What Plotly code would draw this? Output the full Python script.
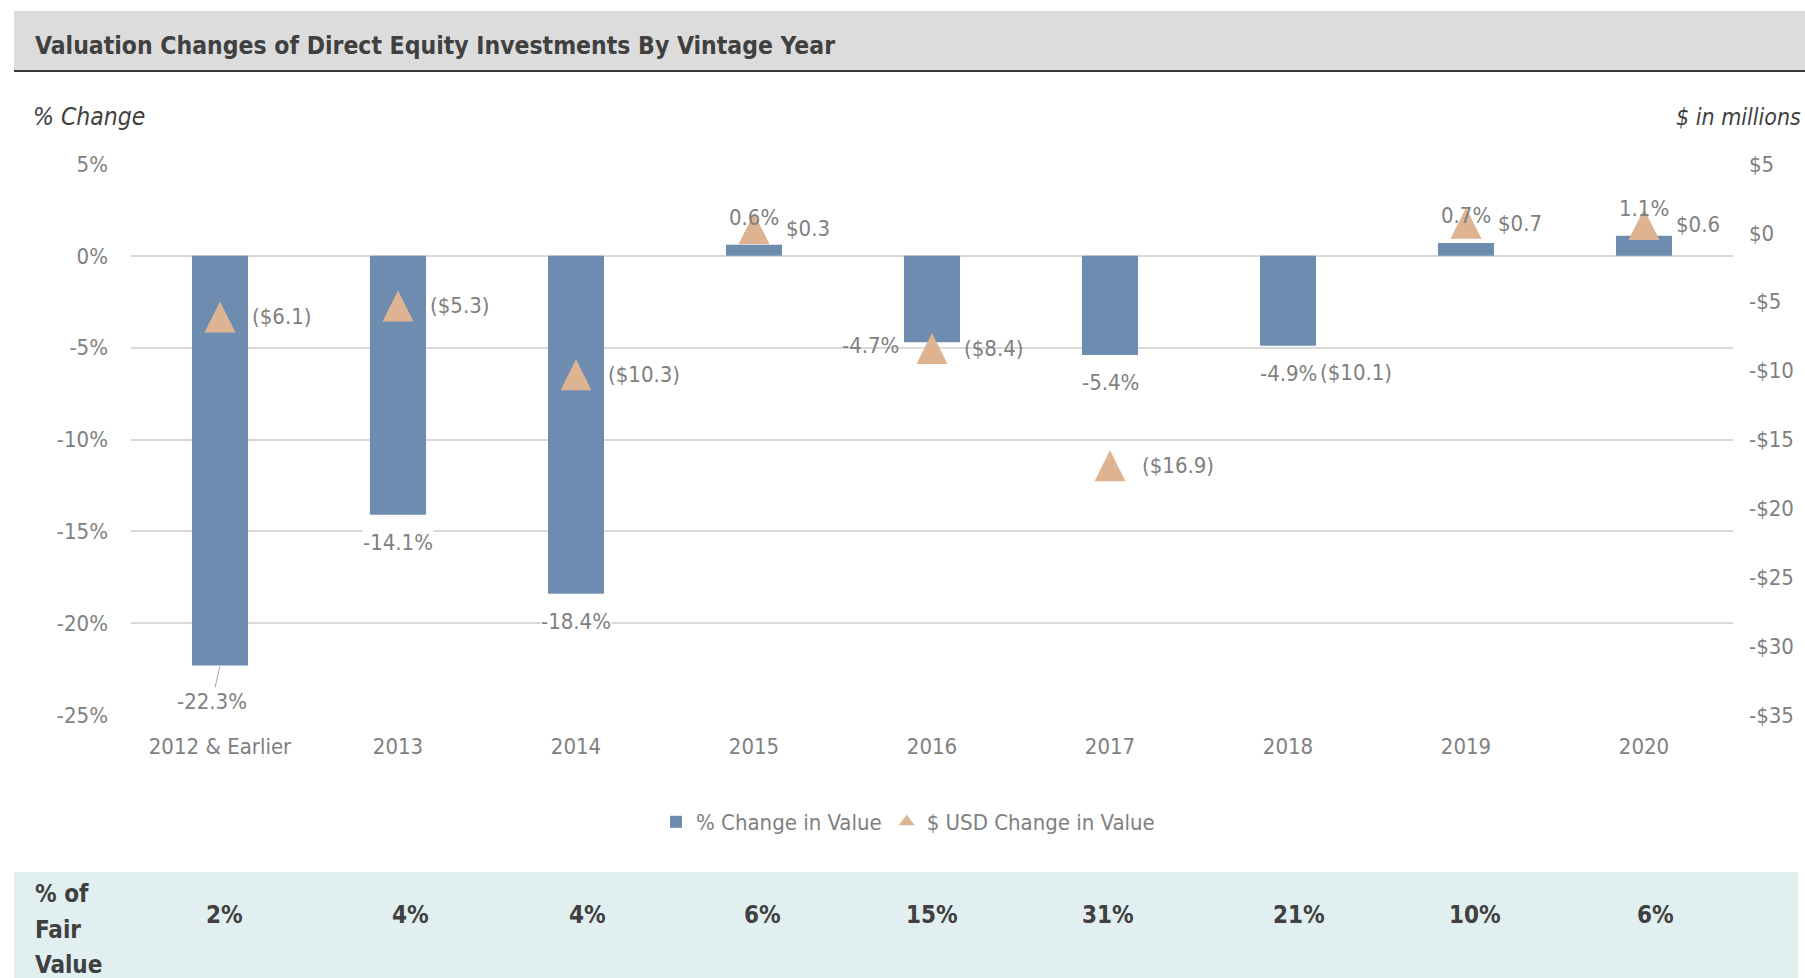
import plotly.graph_objects as go

# ---------------- data ----------------
categories = ["2012 & Earlier", "2013", "2014", "2015", "2016", "2017", "2018", "2019", "2020"]
pct_change = [-22.3, -14.1, -18.4, 0.6, -4.7, -5.4, -4.9, 0.7, 1.1]
usd_change = [-6.1, -5.3, -10.3, 0.3, -8.4, -16.9, -10.1, 0.7, 0.6]
fair_value_pct = [2, 4, 4, 6, 15, 31, 21, 10, 6]
fair_value_row_label = ["% of", "Fair", "Value"]

left_tick_vals = [5, 0, -5, -10, -15, -20, -25]
left_tick_text = ["5%", "0%", "-5%", "-10%", "-15%", "-20%", "-25%"]
right_tick_vals = [5, 0, -5, -10, -15, -20, -25, -30, -35]
right_tick_text = ["$5", "$0", "-$5", "-$10", "-$15", "-$20", "-$25", "-$30", "-$35"]

# ---------------- styles ----------------
# label placement styles for the % labels
pct_label_pos = ["leader", "below", "below", "above", "left", "below", "below", "above", "above"]
pct_label_pad = [0, 0, 0, 0, 0, 0, 4, 0, 0]
table_xshift = [4, 12, 11, 8, 0, -2, 11, 9, 11]
table_label_y = [894, 930, 965]

FONT = "DejaVu Sans Condensed, Liberation Sans Narrow, sans-serif"
FS = 22
BAR_COLOR = "#6E8CB0"
TRI_COLOR = "#DDB391"
GRAY_TXT = "#7F7F7F"
DARK_TXT = "#404040"
W, H = 1805, 978
ML, MR, MT, MB = 131, 72, 164, 263
PW, PH = W - ML - MR, H - MT - MB


def px_x(px):
    return (px - ML) / PW


def px_y(py):
    return (H - MB - py) / PH


fig = go.Figure()

fig.add_trace(go.Bar(
    x=categories, y=pct_change, name="% Change in Value",
    marker=dict(color=BAR_COLOR, line=dict(width=0)),
    width=0.315, yaxis="y", hoverinfo="skip",
))

fig.add_trace(go.Scatter(
    x=categories, y=usd_change, yaxis="y2", mode="markers",
    marker=dict(symbol="arrow-down", angle=180, standoff=15.5, size=31,
                color=TRI_COLOR, line=dict(width=0)),
    showlegend=False, hoverinfo="skip",
))

# legend proxy for the triangles
fig.add_trace(go.Scatter(
    x=[None], y=[None], mode="markers", name="$ USD Change in Value",
    marker=dict(symbol="triangle-up", size=14, color=TRI_COLOR), yaxis="y2",
))

annotations = []
lab_font = dict(family=FONT, size=FS, color=GRAY_TXT)

# % labels (x given as category index)
for i, (v, pos, pad) in enumerate(zip(pct_change, pct_label_pos, pct_label_pad)):
    txt = f"{v:.1f}%"
    base = dict(x=i, y=v, xref="x", yref="y", text=txt, font=lab_font)
    if pos == "above":
        annotations.append(dict(base, showarrow=False, yanchor="middle", yshift=27.6))
    elif pos == "below":
        annotations.append(dict(base, showarrow=False, yanchor="middle", yshift=-27.6,
                                bgcolor="white", borderpad=pad))
    elif pos == "left":
        annotations.append(dict(base, showarrow=False, xanchor="right", yanchor="middle",
                                xshift=-31, yshift=-3))
    elif pos == "leader":
        annotations.append(dict(base, showarrow=True, arrowhead=0, arrowwidth=1,
                                arrowcolor="#A6A6A6", ax=-8, ay=36, standoff=1))

# $ labels
for i, v in enumerate(usd_change):
    txt = f"(${abs(v):.1f})" if v < 0 else f"${v:.1f}"
    annotations.append(dict(x=i, y=v, xref="x", yref="y2", text=txt, showarrow=False,
                            xanchor="left", yanchor="middle", xshift=30, font=lab_font))

# title and axis captions
annotations.append(dict(xref="paper", yref="paper", x=px_x(33), y=px_y(45),
                        xanchor="left", yanchor="middle", showarrow=False,
                        text="<b>Valuation Changes of Direct Equity Investments By Vintage Year</b>",
                        font=dict(family=FONT, size=24.5, color=DARK_TXT)))
annotations.append(dict(xref="paper", yref="paper", x=px_x(31), y=px_y(116),
                        xanchor="left", yanchor="middle", showarrow=False,
                        text="<i>% Change</i>",
                        font=dict(family=FONT, size=24.5, color=DARK_TXT)))
annotations.append(dict(xref="paper", yref="paper", x=px_x(1803), y=px_y(117),
                        xanchor="right", yanchor="middle", showarrow=False,
                        text="<i>$ in millions</i>",
                        font=dict(family=FONT, size=23, color=DARK_TXT)))

# fair value table row
for line, yy in zip(fair_value_row_label, table_label_y):
    annotations.append(dict(xref="paper", yref="paper", x=px_x(33), y=px_y(yy),
                            xanchor="left", yanchor="middle", showarrow=False,
                            text=f"<b>{line}</b>",
                            font=dict(family=FONT, size=24, color=DARK_TXT)))
for i, (fv, xs) in enumerate(zip(fair_value_pct, table_xshift)):
    annotations.append(dict(x=i, xref="x", yref="paper", y=px_y(915), xshift=xs,
                            xanchor="center", yanchor="middle", showarrow=False,
                            text=f"<b>{fv}%</b>",
                            font=dict(family=FONT, size=24, color=DARK_TXT)))

shapes = [
    # title band
    dict(type="rect", xref="paper", yref="paper", x0=px_x(14), x1=px_x(1810),
         y0=px_y(70), y1=px_y(11), fillcolor="#DCDCDC", line=dict(width=0), layer="below"),
    dict(type="line", xref="paper", yref="paper", x0=px_x(14), x1=px_x(1810),
         y0=px_y(71), y1=px_y(71), line=dict(color="#3A3A3A", width=2)),
    # table band
    dict(type="rect", xref="paper", yref="paper", x0=px_x(14), x1=px_x(1798),
         y0=px_y(985), y1=px_y(872), fillcolor="#E1EFF0", line=dict(width=0), layer="below"),
]

fig.update_layout(
    width=W, height=H,
    margin=dict(l=ML, r=MR, t=MT, b=MB, pad=0, autoexpand=False),
    paper_bgcolor="white", plot_bgcolor="white",
    font=dict(family=FONT, size=FS, color=GRAY_TXT),
    showlegend=True,
    legend=dict(orientation="h", x=px_x(908), xanchor="center", y=px_y(822), yanchor="middle",
                font=dict(family=FONT, size=FS, color=GRAY_TXT), bgcolor="rgba(0,0,0,0)",
                itemclick=False, itemdoubleclick=False),
    xaxis=dict(type="category", range=[-0.5, len(categories) - 0.5], autorange=False,
               showgrid=False, showline=False, zeroline=False, automargin=False,
               tickfont=dict(family=FONT, size=FS, color=GRAY_TXT), ticks="",
               ticklabelstandoff=16),
    yaxis=dict(range=[-25, 5], tickmode="array", tickvals=left_tick_vals, ticktext=left_tick_text,
               showgrid=True, gridcolor="#D9D9D9", gridwidth=2, zeroline=False, showline=False,
               automargin=False, ticks="", tickfont=dict(family=FONT, size=FS, color=GRAY_TXT),
               ticklabelstandoff=22),
    yaxis2=dict(range=[-35, 5], overlaying="y", side="right", tickmode="array",
                tickvals=right_tick_vals, ticktext=right_tick_text, showgrid=False,
                zeroline=False, showline=False, ticks="", automargin=False,
                tickfont=dict(family=FONT, size=FS, color=GRAY_TXT), ticklabelstandoff=15),
    annotations=annotations,
    shapes=shapes,
)

fig.write_html("out.html", include_plotlyjs=True, full_html=True,
               config={"displayModeBar": False},
               post_script="document.body.style.margin='0';document.body.style.overflow='hidden';")
